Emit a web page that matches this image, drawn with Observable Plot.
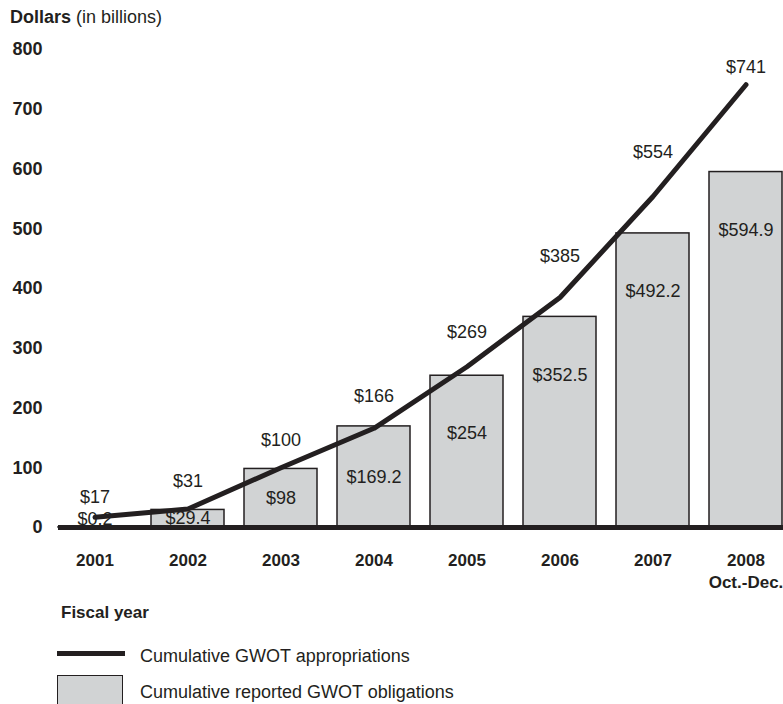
<!DOCTYPE html>
<html>
<head>
<meta charset="utf-8">
<script src="https://cdn.jsdelivr.net/npm/d3@7"></script>
<script src="https://cdn.jsdelivr.net/npm/@observablehq/plot@0.6"></script>
<style>
  html, body { margin: 0; padding: 0; background: #fff; }
  body { width: 783px; height: 704px; overflow: hidden; position: relative;
         font-family: "Liberation Sans", Arial, Helvetica, sans-serif; color: #231f20; }
  #title { height: 30px; box-sizing: border-box; padding: 5px 0 0 10px; font-size: 18px; line-height: 24px; }
  #title b { font-weight: bold; }
  .abs { position: absolute; }
  #fiscal { left: 61px; top: 602px; font-size: 17px; font-weight: bold; line-height: 22px; }
  #swLine { left: 57px; top: 651px; width: 68px; height: 5px; background: #231f20; }
  #swBox { left: 57px; top: 675px; width: 64px; height: 40px; background: #d1d3d4; border: 1.5px solid #231f20; }
  .legtxt { left: 140px; font-size: 18px; line-height: 22px; }
</style>
</head>
<body>
<div id="title"><b>Dollars</b> (in billions)</div>
<div id="chart"></div>
<div id="fiscal" class="abs">Fiscal year</div>
<div id="swLine" class="abs"></div>
<div class="abs legtxt" style="top:645px">Cumulative GWOT appropriations</div>
<div id="swBox" class="abs"></div>
<div class="abs legtxt" style="top:681px">Cumulative reported GWOT obligations</div>
<script>
const years = ["2001", "2002", "2003", "2004", "2005", "2006", "2007", "2008"];
const yearLabels = ["2001", "2002", "2003", "2004", "2005", "2006", "2007", "2008\nOct.-Dec."];
const appropriations = [17, 31, 100, 166, 269, 385, 554, 741];
const obligations = [0.2, 29.4, 98, 169.2, 254, 352.5, 492.2, 594.9];
const yTicks = [0, 100, 200, 300, 400, 500, 600, 700, 800];

const lineData = years.map((y, i) => ({year: y, value: appropriations[i], i}));
const barData = years.map((y, i) => ({year: y, value: obligations[i]}));
const ink = "#231f20";

const height = 570, marginTop = 19, marginBottom = 73;
const pxPerUnit = (height - marginTop - marginBottom) / 800;
// lift each line label clear of the rising segment that follows it
const liftPx = d => {
  const next = appropriations[d.i + 1];
  const slope = next === undefined ? 0 : next - d.value;
  return 18 + 0.14 * slope;
};

const chart = Plot.plot({
  width: 783,
  height,
  marginTop,
  marginBottom,
  marginLeft: 58,
  marginRight: 0,
  style: {fontFamily: "'Liberation Sans', Arial, Helvetica, sans-serif", fontSize: "18px", color: ink, background: "#fff", overflow: "visible"},
  x: {type: "band", domain: years, range: [48, 792], paddingInner: 0.215, paddingOuter: 0.1075, axis: null},
  y: {domain: [0, 800], axis: null},
  marks: [
    Plot.barY(barData, {x: "year", y: "value", fill: "#d1d3d4", stroke: ink, strokeWidth: 1.5}),
    Plot.ruleY([0], {stroke: ink, strokeWidth: 5}),
    Plot.line(lineData, {x: "year", y: "value", stroke: ink, strokeWidth: 5}),
    Plot.text(lineData, {x: "year", y: d => d.value + liftPx(d) / pxPerUnit, text: d => `$${d.value}`, fontSize: 18, fill: ink}),
    Plot.text(barData, {x: "year", y: d => d.value >= 200 ? d.value - 97 : Math.max(d.value / 2, 13), text: d => `$${d.value}`, fontSize: 18, fill: ink}),
    Plot.axisY({ticks: yTicks, tickSize: 0, tickPadding: 16, fontSize: 18, fontWeight: "bold", fill: ink, label: null}),
    Plot.axisX({tickSize: 0, tickPadding: 23, fontSize: 17, fontWeight: "bold", fill: ink, lineHeight: 1.3, label: null,
      tickFormat: d => yearLabels[years.indexOf(d)]})
  ]
});
document.getElementById("chart").appendChild(chart);
</script>
</body>
</html>
